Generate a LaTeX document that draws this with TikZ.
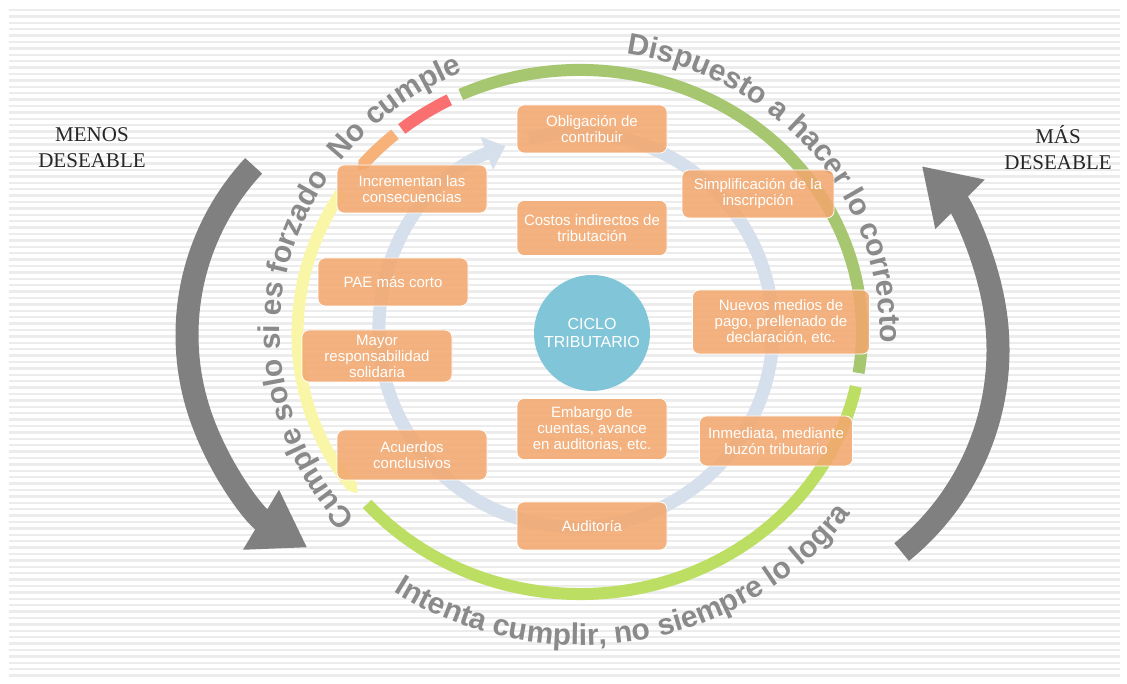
\documentclass[tikz,border=0pt]{standalone}
\usepackage{fontspec}
\setmainfont{Liberation Sans}
\newfontfamily\deseablefont{Liberation Serif}
\usetikzlibrary{arrows.meta, calc, decorations.text}
\definecolor{boxorange}{RGB}{242, 168, 110}
\definecolor{hubblue}{RGB}{128, 198, 216}
\definecolor{ringolive}{RGB}{166, 199, 112}
\definecolor{ringlime}{RGB}{188, 222, 98}
\definecolor{ringyellow}{RGB}{250, 246, 168}
\definecolor{ringorange}{RGB}{246, 178, 120}
\definecolor{ringred}{RGB}{250, 112, 112}
\definecolor{cycleblue}{RGB}{214, 223, 236}
\definecolor{arcgray}{RGB}{138, 138, 138}
\definecolor{arrowgray}{RGB}{128, 128, 128}
\definecolor{stripegray}{RGB}{236, 236, 236}
\newcommand{\arcfont}{\fontsize{30}{30}\selectfont\bfseries}
\tikzset{
    box/.style={
        rectangle, rounded corners=7pt, minimum width=150pt, minimum height=48pt,
        draw=white, line width=0.8pt, fill=boxorange, fill opacity=0.88, text opacity=1,
        text=white, font=\fontsize{15}{16}\selectfont, align=center, inner sep=2pt
    },
    hub/.style={circle, minimum size=116pt, fill=hubblue, text=white, font=\fontsize{16}{18}\selectfont, align=center},
    ring/.style={line width=12pt},
    cyclering/.style={line width=13pt, draw=cycleblue},
    bigarrow/.style={line width=23pt, draw=arrowgray, -{Triangle[length=54pt, width=66pt]}},
    sidelabel/.style={font=\deseablefont\fontsize{21}{26}\selectfont, text=black!85, align=center},
    arctext/.style={decorate, decoration={text along path, text align=center, text color=arcgray, text={|\arcfont|#1}}},
    stripe/.style={draw=stripegray, line width=2.4pt},
}

\begin{document}
\begin{tikzpicture}[x=1pt, y=1pt]
    \fill[white] (0,0) rectangle (1127,684);
    \foreach \k in {0,...,104}
        \draw[stripe] (9,{674-6.4*\k}) -- (1120,{674-6.4*\k});
    \useasboundingbox (0,0) rectangle (1127,684);

    \coordinate (ctr) at (580,352);
    \coordinate (ictr) at (576,354);
    \coordinate (lctr) at (435,349);
    \coordinate (rctr) at (738,334);

    \draw[ring, ringolive] ($(ctr)+(115:282 and 262)$) arc[start angle=115, end angle=-9, x radius=282, y radius=262];
    \draw[ring, ringlime] ($(ctr)+(-12:282 and 262)$) arc[start angle=-12, end angle=-139, x radius=282, y radius=262];
    \draw[ring, ringyellow, -{Triangle[length=9pt, width=12pt]}] ($(ctr)+(148:282 and 262)$) arc[start angle=148, end angle=218, x radius=282, y radius=262];
    \draw[ring, ringorange, -{Triangle[length=9pt, width=12pt]}] ($(ctr)+(131:282 and 262)$) arc[start angle=131, end angle=142, x radius=282, y radius=262];
    \draw[ring, ringred] ($(ctr)+(117.6:282 and 262)$) arc[start angle=117.6, end angle=129.2, x radius=282, y radius=262];

    \draw[cyclering, -{Triangle[length=20pt, width=34pt]}] ($(ictr)+(104:197)$) arc[start angle=104, end angle=-249, radius=197];

    \path[arctext={Dispuesto a hacer lo correcto}] ($(ctr)+(94:300 and 282)$) arc[start angle=94, end angle=-16, x radius=300, y radius=282];
    \path[arctext={No cumple}] ($(ctr)+(149:300 and 282)$) arc[start angle=149, end angle=107, x radius=300, y radius=282];
    \path[arctext={Cumple solo si es forzado}] ($(ctr)+(236:300 and 282)$) arc[start angle=236, end angle=132, x radius=300, y radius=282];
    \path[arctext={Intenta cumplir, no siempre lo logra}] ($(ctr)+(215:333 and 313)$) arc[start angle=215, end angle=346, x radius=333, y radius=313];

    \draw[bigarrow] ($(lctr)+(137:248)$) arc[start angle=137, end angle=239, radius=248];
    \draw[bigarrow] ($(rctr)+(-51:260)$) arc[start angle=-51, end angle=45, radius=260];

    \node[box] (oblig) at (592,555) {Obligación de\\contribuir};
    \node[box] (incr) at (412,495) {Incrementan las\\consecuencias};
    \node[box, minimum width=152pt] (simpl) at (758,490) {Simplificación de la\\inscripción};
    \node[box, minimum height=55pt] (costos) at (592,456) {Costos indirectos de\\tributación};
    \node[box] (pae) at (393,402) {PAE más corto};
    \node[box, minimum width=177pt, minimum height=64pt] (nuevos) at (781,362) {Nuevos medios de\\pago, prellenado de\\declaración, etc.};
    \node[box, minimum height=52pt] (mayor) at (377,328) {Mayor\\responsabilidad\\solidaria};
    \node[hub] (ciclo) at (592,351) {CICLO\\TRIBUTARIO};
    \node[box, minimum height=61pt] (embargo) at (592,255) {Embargo de\\cuentas, avance\\en auditorias, etc.};
    \node[box, minimum width=153pt, minimum height=50pt] (inmed) at (776,243) {Inmediata, mediante\\buzón tributario};
    \node[box, minimum height=50pt] (acuerdos) at (412,229) {Acuerdos\\conclusivos};
    \node[box] (audit) at (592,158) {Auditoría};

    \node[sidelabel] (menos) at (92,536) {MENOS\\DESEABLE};
    \node[sidelabel] (mas) at (1058,536) {MÁS\\DESEABLE};
\end{tikzpicture}
\end{document}
